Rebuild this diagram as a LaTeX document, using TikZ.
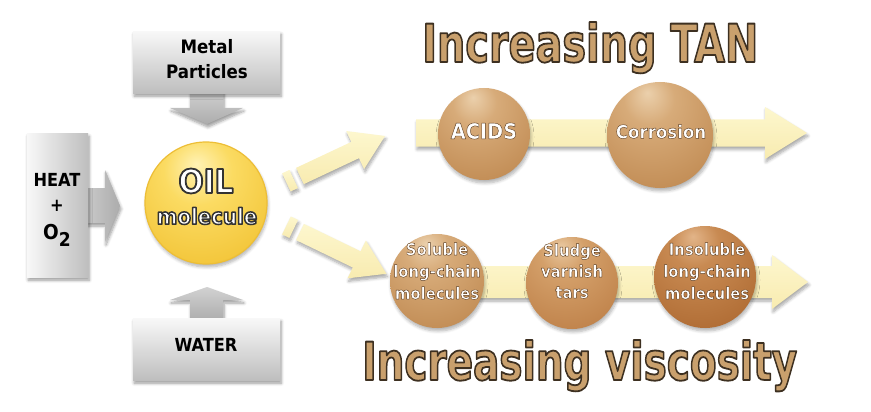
\documentclass[tikz,border=0pt]{standalone}
\usepackage{fontspec}
\newfontfamily\hf{DejaVu Sans Condensed Bold}
\usetikzlibrary{shadows.blur}
\definecolor{gA}{HTML}{F8F8F8}
\definecolor{gB}{HTML}{BEBEBE}
\definecolor{gC}{HTML}{ACACAC}
\definecolor{yA}{HTML}{FDF7CE}
\definecolor{yB}{HTML}{F8EBB0}
\definecolor{hTan}{HTML}{C9A06D}
\definecolor{oRim}{HTML}{EDBE36}
% tan balls
\definecolor{bA1}{HTML}{EBD0AC}
\definecolor{bA2}{HTML}{D7AB79}
\definecolor{bA3}{HTML}{C08A52}
\definecolor{bA4}{HTML}{9A6535}
% sludge
\definecolor{bM1}{HTML}{E9C8A0}
\definecolor{bM2}{HTML}{D4A06A}
\definecolor{bM3}{HTML}{BE8048}
\definecolor{bM4}{HTML}{965A2A}
% insoluble
\definecolor{bI1}{HTML}{E2B488}
\definecolor{bI2}{HTML}{C88A52}
\definecolor{bI3}{HTML}{AE6A32}
\definecolor{bI4}{HTML}{844818}
% oil
\definecolor{oA}{HTML}{FFF2B4}
\definecolor{oB}{HTML}{FBDB62}
\definecolor{oC}{HTML}{F1C131}
\definecolor{oD}{HTML}{C99A22}
\pgfdeclareradialshading{ballTan}{\pgfpoint{-6bp}{20bp}}{color(0bp)=(bA1); color(12bp)=(bA2); color(40bp)=(bA3); color(66bp)=(bA4); color(80bp)=(bA4)}
\pgfdeclareradialshading{ballMid}{\pgfpoint{-6bp}{20bp}}{color(0bp)=(bM1); color(12bp)=(bM2); color(40bp)=(bM3); color(66bp)=(bM4); color(80bp)=(bM4)}
\pgfdeclareradialshading{ballDark}{\pgfpoint{-6bp}{20bp}}{color(0bp)=(bI1); color(12bp)=(bI2); color(40bp)=(bI3); color(66bp)=(bI4); color(80bp)=(bI4)}
\pgfdeclareradialshading{ballOil}{\pgfpoint{-4bp}{16bp}}{color(0bp)=(oA); color(14bp)=(oB); color(40bp)=(oC); color(64bp)=(oD); color(80bp)=(oD)}
\tikzset{
  shd/.style={blur shadow={shadow xshift=1pt, shadow yshift=-3pt, shadow blur radius=3pt, shadow blur steps=6, shadow opacity=#1}},
  shd/.default=40,
  grayV/.style={top color=gA, bottom color=gB, shd},
  grayH/.style={left color=gA, right color=gB, shd},
  grayArr/.style={top color=gB!70!white, bottom color=gC, shd},
  grayArrH/.style={left color=gB!80!white, right color=gC, shd},
  yarrow/.style={top color=yA, bottom color=yB, shd=35},
  bsphere/.style={circle, inner sep=0pt, shade, shading=#1, shd=30},
  boxtxt/.style={font=\hf, text=black, inner sep=0pt, align=center},
  balltxt/.style={font=\hf, text=white, inner sep=0pt, align=center},
  headtxt/.style={inner sep=0pt, anchor=base west}
}
% outlined text: #1 stroke rgb, #2 stroke width, #3 text (fill = current colour)
\newcommand{\outl}[3]{\special{pdf:code q #1 RG #2 w 1 j 2 Tr}#3\special{pdf:code Q}}
\newcommand{\wtxt}[1]{\outl{0.35 0.22 0.10}{0.4}{#1}}
\begin{document}
\begin{tikzpicture}[x=1pt,y=-1pt]
\useasboundingbox (0,0) rectangle (871,412);

% ---------- gray inputs ----------
\path[grayArr] (190,90) -- (223,90) -- (223,108) -- (243,108) -- (207,124) -- (170,108) -- (190,108) -- cycle;
\node[grayV, minimum width=147pt, minimum height=62pt, anchor=north west, inner sep=0pt] (metal) at (133,31) {};
\node[boxtxt, font=\hf\fontsize{18.5}{24.5}\selectfont] (metaltxt) at (207,59) {Metal\\Particles};

\path[grayArrH] (85,188) -- (105,188) -- (105,170) -- (120,206) -- (105,242) -- (105,223) -- (85,223) -- cycle;
\node[grayH, minimum width=61pt, minimum height=144pt, anchor=north west, inner sep=0pt] (heat) at (27,133) {};
\node[boxtxt, font=\hf\fontsize{18}{18}\selectfont] (heattxt) at (57,180) {HEAT};
\node[boxtxt, font=\hf\fontsize{18}{18}\selectfont] (plus) at (57,206) {+};
\node[boxtxt, font=\hf\fontsize{20.5}{20.5}\selectfont, anchor=base] (o2) at (57,239) {O\raisebox{-7.5pt}{\fontsize{19}{19}\selectfont 2}};

\path[grayArr] (190,321) -- (190,300) -- (170,300) -- (207,287) -- (243,300) -- (223,300) -- (223,321) -- cycle;
\node[grayV, minimum width=147pt, minimum height=62pt, anchor=north west, inner sep=0pt] (water) at (133,318) {};
\node[boxtxt, font=\hf\fontsize{18}{18}\selectfont] (watertxt) at (206,345) {WATER};

% ---------- oil ----------
\node[bsphere=ballOil, minimum size=122pt, draw=oRim, line width=1.2pt] (oil) at (206,203) {};
\node[boxtxt, text=white, font=\hf\fontsize{33}{33}\selectfont] (oiltxt) at (206,181) {\outl{0.2 0.2 0.2}{1.8}{OIL}};
\node[boxtxt, text=white, font=\hf\fontsize{22}{22}\selectfont] (moltxt) at (207,216) {\outl{0.2 0.2 0.2}{1.5}{molecule}};

% ---------- diagonal arrows ----------
\begin{scope}[shift={(300,176)}, rotate=25.2]
  \path[yarrow] (-15,-10) rectangle (-7,10);
  \path[yarrow] (0,-9) -- (61,-9) -- (61,-21) -- (94,0) -- (61,21) -- (61,9) -- (0,9) -- cycle;
\end{scope}
\begin{scope}[shift={(300,232)}, rotate=-25.8]
  \path[yarrow] (-15,-10) rectangle (-7,10);
  \path[yarrow] (0,-9) -- (63,-9) -- (63,-21) -- (96,0) -- (63,21) -- (63,9) -- (0,9) -- cycle;
\end{scope}

% ---------- TAN row ----------
\path[yarrow] (416,119.5) -- (765,119.5) -- (765,107) -- (807,133) -- (765,159) -- (765,146.5) -- (416,146.5) -- cycle;
\node[bsphere=ballTan, minimum size=92pt] (acids) at (484,134) {};
\node[balltxt, font=\hf\fontsize{21.5}{21.5}\selectfont] (acidstxt) at (484,131) {\wtxt{ACIDS}};
\node[bsphere=ballTan, minimum size=106pt] (corr) at (660,135) {};
\node[balltxt, font=\hf\fontsize{18.5}{18.5}\selectfont] (corrtxt) at (661,131.5) {\wtxt{Corrosion}};

% ---------- viscosity row ----------
\path[yarrow] (400,266) -- (772,266) -- (772,255) -- (808,282) -- (772,309) -- (772,298) -- (400,298) -- cycle;
\node[bsphere=ballTan, minimum size=94pt] (sol) at (437,281) {};
\node[balltxt, font=\hf\fontsize{16.5}{22}\selectfont] (soltxt) at (437,271) {\wtxt{Soluble}\\\wtxt{long-chain}\\\wtxt{molecules}};
\node[bsphere=ballMid, minimum size=92pt] (sludge) at (572,283) {};
\node[balltxt, font=\hf\fontsize{16.5}{21}\selectfont] (sludgetxt) at (572,271) {\wtxt{Sludge}\\\wtxt{varnish}\\\wtxt{tars}};
\node[bsphere=ballDark, minimum size=102pt] (insol) at (705,277) {};
\node[balltxt, font=\hf\fontsize{16.5}{22}\selectfont] (insoltxt) at (707,271) {\wtxt{Insoluble}\\\wtxt{long-chain}\\\wtxt{molecules}};

% ---------- headings ----------
\node[headtxt] (tan) at (422,62) {\resizebox{336pt}{40pt}{\hf\fontsize{50}{50}\selectfont\color{hTan}\outl{0.24 0.19 0.13}{1.7}{Increasing TAN}}};
\node[headtxt] (visc) at (362,380) {\resizebox{435pt}{40pt}{\hf\fontsize{50}{50}\selectfont\color{hTan}\outl{0.24 0.19 0.13}{1.7}{Increasing viscosity}}};
\end{tikzpicture}
\end{document}
